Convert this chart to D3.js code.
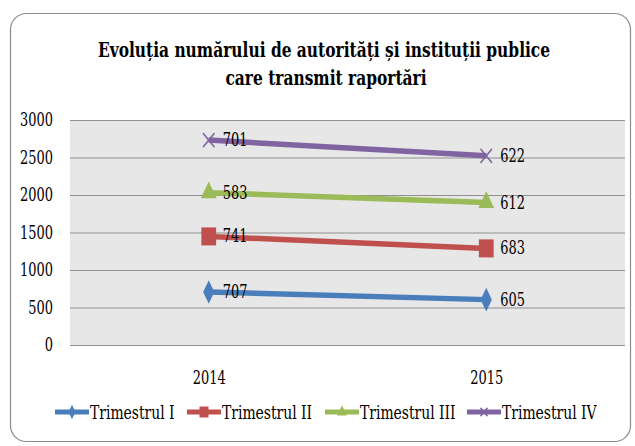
<!DOCTYPE html>
<html>
<head>
<script src="https://d3js.org/d3.v7.min.js"></script>
<style>
  body { margin: 0; background: #fff; }
  svg text { font-family: "DejaVu Serif Condensed", "DejaVu Serif", serif; fill: #000; }
</style>
</head>
<body>
<svg width="635" height="446"></svg>
<script>
var years = ["2014", "2015"];
var seriesNames = ["Trimestrul I", "Trimestrul II", "Trimestrul III", "Trimestrul IV"];
var t1 = [707, 605];
var t2 = [741, 683];
var t3 = [583, 612];
var t4 = [701, 622];
var yTicks = [0, 500, 1000, 1500, 2000, 2500, 3000];
var colors = ["#4a7ebb", "#c0504d", "#9bbb59", "#8064a2"];

var svg = d3.select("svg");
var margin = { left: 70, right: 10, top: 120, bottom: 101 };
var width = 635, height = 446;

// squeeze text horizontally, the source uses a narrow Times face
function condense(sel, k) {
  sel.each(function() {
    var w = this.getComputedTextLength();
    d3.select(this).attr("textLength", w * k).attr("lengthAdjust", "spacingAndGlyphs");
  });
}

// outer frame
svg.append("rect")
  .attr("x", 10.5).attr("y", 13.5)
  .attr("width", 620).attr("height", 428)
  .attr("rx", 16)
  .attr("fill", "#fff")
  .attr("stroke", "#8c8c8c")
  .attr("stroke-width", 1.2);

var rows = years.map(function(y, i) {
  return { year: y, "Trimestrul I": t1[i], "Trimestrul II": t2[i], "Trimestrul III": t3[i], "Trimestrul IV": t4[i] };
});
var stacked = d3.stack().keys(seriesNames)(rows);

var x = d3.scalePoint().domain(years)
  .range([margin.left, width - margin.right]).padding(0.5);
var y = d3.scaleLinear().domain([0, 3000])
  .range([height - margin.bottom, margin.top]);

// plot background
svg.append("rect")
  .attr("x", margin.left).attr("y", y(3000))
  .attr("width", width - margin.right - margin.left)
  .attr("height", y(0) - y(3000))
  .attr("fill", "#e7e7e7");

// gridlines
svg.append("g").selectAll("line")
  .data(yTicks).enter().append("line")
  .attr("x1", margin.left).attr("x2", width - margin.right)
  .attr("y1", function(d) { return y(d) + 0.5; })
  .attr("y2", function(d) { return y(d) + 0.5; })
  .attr("stroke", "#8f8f8f").attr("stroke-width", 1);

// y axis labels
var yAxis = d3.axisLeft(y).tickValues(yTicks).tickFormat(d3.format("d")).tickSize(0).tickPadding(17);
var gy = svg.append("g").attr("transform", "translate(" + margin.left + ",0)").call(yAxis);
gy.select(".domain").remove();
gy.selectAll("text").attr("font-size", 18).attr("fill", "#000").call(condense, 0.8);

// x axis labels
var xAxis = d3.axisBottom(x).tickSize(0).tickPadding(26);
var gx = svg.append("g").attr("transform", "translate(0," + y(0) + ")").call(xAxis);
gx.select(".domain").remove();
gx.selectAll("text").attr("font-size", 18).attr("fill", "#000").call(condense, 0.8);

// title
svg.append("text").attr("x", 324).attr("y", 57)
  .attr("text-anchor", "middle").attr("font-size", 19.5).attr("font-weight", "bold")
  .text("Evoluția numărului de autorități și instituții publice")
  .call(condense, 0.88);
svg.append("text").attr("x", 326).attr("y", 85)
  .attr("text-anchor", "middle").attr("font-size", 19.5).attr("font-weight", "bold")
  .text("care transmit raportări")
  .call(condense, 0.88);

function marker(g, i, size) {
  var c = colors[i];
  if (i === 0) {
    g.append("path").attr("d", d3.symbol(d3.symbolDiamond, size * size * 0.5)()).attr("fill", c);
  } else if (i === 1) {
    g.append("rect").attr("x", -size / 2).attr("y", -size / 2)
      .attr("width", size).attr("height", size).attr("fill", c);
  } else if (i === 2) {
    g.append("path").attr("d", d3.symbol(d3.symbolTriangle, size * size * 0.5)()).attr("fill", c);
  } else {
    g.append("path").attr("d", d3.symbol(d3.symbolTimes, size * size * 0.4)())
      .attr("fill", "none").attr("stroke", c).attr("stroke-width", 1.8);
  }
}

var line = d3.line()
  .x(function(d) { return x(d.data.year); })
  .y(function(d) { return y(d[1]); });

stacked.forEach(function(s, i) {
  svg.append("path").datum(s)
    .attr("d", line)
    .attr("fill", "none")
    .attr("stroke", colors[i])
    .attr("stroke-width", 5.5);
});
stacked.forEach(function(s, i) {
  s.forEach(function(d) {
    var g = svg.append("g")
      .attr("transform", "translate(" + x(d.data.year) + "," + y(d[1]) + ") scale(0.82,1)");
    marker(g, i, 18);
    svg.append("text")
      .attr("x", x(d.data.year) + 14).attr("y", y(d[1]) + 6)
      .attr("font-size", 18)
      .text(d[1] - d[0])
      .call(condense, 0.8);
  });
});

// legend
var legendX = [55, 187, 325, 467];
seriesNames.forEach(function(n, i) {
  var lg = svg.append("g").attr("transform", "translate(" + legendX[i] + ",412)");
  lg.append("line").attr("x1", 0).attr("x2", 34).attr("y1", 0).attr("y2", 0)
    .attr("stroke", colors[i]).attr("stroke-width", 5);
  var m = lg.append("g").attr("transform", "translate(17,0) scale(0.82,1)");
  marker(m, i, 11);
  lg.append("text").attr("x", 35).attr("y", 6.5).attr("font-size", 18)
    .text(n)
    .call(condense, 0.86);
});
</script>
</body>
</html>
